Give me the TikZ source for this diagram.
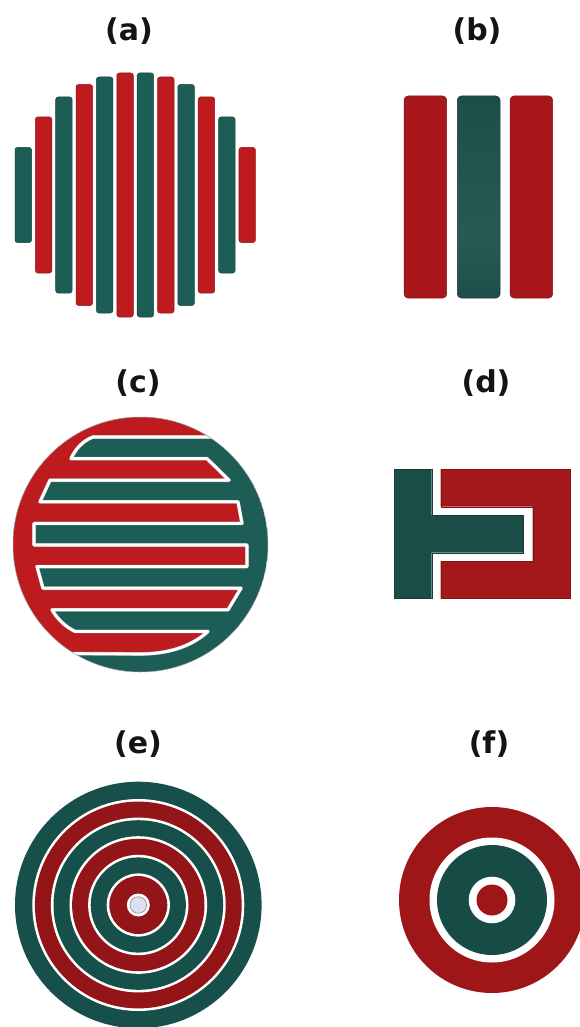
\documentclass[tikz,border=0pt]{standalone}
\usepackage{fontspec}
\newfontfamily\labfont{DejaVu Sans}
\definecolor{redA}{HTML}{BE1B1F}
\definecolor{greenA}{HTML}{1C5D56}
\definecolor{redB}{HTML}{A8171B}
\definecolor{greenB}{HTML}{1B4F4A}
\definecolor{redD}{HTML}{A3181B}
\definecolor{greenD}{HTML}{1B4D47}
\definecolor{redE}{HTML}{931518}
\definecolor{greenE}{HTML}{17504A}
\definecolor{redF}{HTML}{9E1618}
\definecolor{greenF}{HTML}{174C46}
\definecolor{dotE}{HTML}{DDE0F0}
\pgfdeclareverticalshading{gbar}{100bp}{color(0bp)=(greenB!45!black); color(8bp)=(greenB!65!black); color(20bp)=(greenB!95!black); color(40bp)=(greenB!94!white); color(75bp)=(greenB); color(100bp)=(greenB!92!black)}
\tikzset{
  lab/.style={font=\labfont\bfseries\fontsize{30}{30}\selectfont, text=black!92, anchor=base, inner sep=0pt},
  barA/.style={rounded corners=2.5pt, line width=0.5pt},
  barB/.style={rounded corners=4pt, line width=0.5pt},
  gapline/.style={line width=2.8pt, white, line join=round},
  gapedge/.style={line width=3.6pt, black!30, line join=round}
}
\begin{document}
\begin{tikzpicture}[x=1pt,y=-1pt]
\useasboundingbox (0,0) rectangle (580,1027);
\fill[white] (0,0) rectangle (580,1027);

% labels
\node[lab] (la) at (129,41) {(a)};
\node[lab] (lb) at (477,41) {(b)};
\node[lab] (lc) at (138,392) {(c)};
\node[lab] (ld) at (486,392) {(d)};
\node[lab] (le) at (138,753) {(e)};
\node[lab] (lf) at (489,753) {(f)};

% (a) vertical bars
\foreach \i/\h/\c in {0/95/greenA,1/156/redA,2/196/greenA,3/221/redA,4/236/greenA,5/244/redA,6/244/greenA,7/236/redA,8/221/greenA,9/196/redA,10/156/greenA,11/95/redA}{
  \pgfmathsetmacro\xl{15+20.36*\i}
  \pgfmathsetmacro\yt{195-\h/2}
  \filldraw[barA, fill=\c, draw=\c!75!black] (\xl,\yt) rectangle ++(16.5,\h);
}

% (b) three bars
\filldraw[barB, fill=redB, draw=redB!75!black] (404,96) rectangle (446.7,298);
\shade[barB, shading=gbar] (457.3,96) rectangle (500,298);
\draw[barB, draw=greenB!70!black] (457.3,96) rectangle (500,298);
\filldraw[barB, fill=redB, draw=redB!75!black] (510,96) rectangle (552.7,298);

% (c) interdigitated disc
\begin{scope}
  \clip (140.5,544.5) circle (127.5pt);
  \fill[greenA] (140.5,544.5) circle (127.5pt);
  \fill[redA] (300,437) -- (93,437) .. controls (82,441) and (75,450) .. (71,458.6)
    -- (207,458.6) -- (229,480.2) -- (50,480.2) -- (40,501.8) -- (238,501.8)
    -- (242,523.4) -- (34,523.4) -- (34,545) -- (247,545) -- (247,566.6)
    -- (37,566.6) -- (43,588.2) -- (241,588.2) -- (228,609.8) -- (52,609.8)
    .. controls (58,620) and (66,627) .. (75,631.4) -- (208,631.4)
    .. controls (190,648) and (165,654) .. (140,654) -- (-10,653)
    -- (-10,380) -- (300,380) -- cycle;
  \foreach \s in {gapedge,gapline}{
  \draw[\s] (300,437) -- (93,437) .. controls (82,441) and (75,450) .. (71,458.6)
    -- (207,458.6) -- (229,480.2) -- (50,480.2) -- (40,501.8) -- (238,501.8)
    -- (242,523.4) -- (34,523.4) -- (34,545) -- (247,545) -- (247,566.6)
    -- (37,566.6) -- (43,588.2) -- (241,588.2) -- (228,609.8) -- (52,609.8)
    .. controls (58,620) and (66,627) .. (75,631.4) -- (208,631.4)
    .. controls (190,648) and (165,654) .. (140,654) -- (-10,653);
  }
\end{scope}
\draw[black!35, line width=0.5pt] (140.5,544.5) circle (127.5pt);

% (d) T and C shapes
\filldraw[fill=greenD, draw=greenD!80!black, line width=0.4pt] (394.3,469.3) -- (431.7,469.3) -- (431.7,515) -- (523.3,515) -- (523.3,552.7) -- (431.7,552.7) -- (431.7,598.3) -- (394.3,598.3) -- cycle;
\filldraw[fill=redD, draw=redD!80!black, line width=0.4pt] (440.7,469.3) -- (570,469.3) -- (570,598.3) -- (440.7,598.3) -- (440.7,561) -- (532.7,561) -- (532.7,506.7) -- (440.7,506.7) -- cycle;

% (e) concentric rings
\fill[greenE] (138.3,905) circle (123.3pt);
\foreach \r/\c in {104.7/redE, 86.1/greenE, 67.5/redE, 48.9/greenE, 30.3/redE}{
  \pgfmathsetmacro\ro{\r+1.3}
  \pgfmathsetmacro\ri{\r-1.3}
  \fill[white] (138.3,905) circle (\ro pt);
  \fill[\c] (138.3,905) circle (\ri pt);
}
\fill[white] (138.3,905) circle (11.5pt);
\filldraw[fill=dotE, draw=black!45, line width=0.6pt] (138.3,905) circle (8.3pt);

% (f) target
\fill[redF] (492,900) circle (93pt);
\fill[white] (492,900) circle (62.5pt);
\fill[greenF] (492,900) circle (55pt);
\fill[white] (492,900) circle (23.3pt);
\fill[redF] (492,900) circle (15.5pt);
\end{tikzpicture}
\end{document}
